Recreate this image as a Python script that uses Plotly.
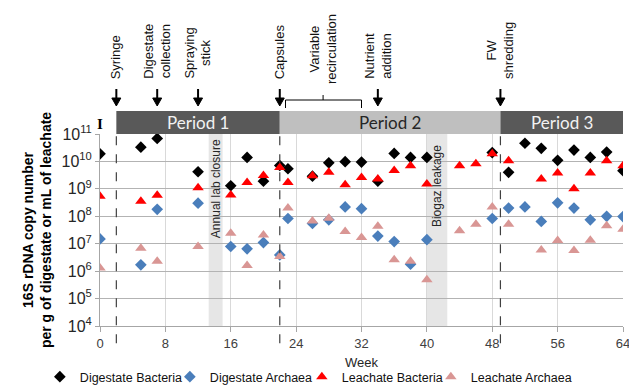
import plotly.graph_objects as go

# ---- data ----
weeks_digestate = [0, 5, 7, 12, 16, 18, 20, 22, 23, 26, 28, 30, 32, 34, 36, 38, 40,
                   48, 50, 52, 54, 56, 58, 60, 62, 64]
digestate_bacteria = [1.9e10, 3.3e10, 6.9e10, 4.2e9, 1.3e9, 1.4e10, 1.9e9, 7.1e9, 5.4e9,
                      2.9e9, 8.9e9, 9.8e9, 9.5e9, 1.9e9, 1.95e10, 1.4e10, 1.4e10,
                      2.1e10, 4.0e9, 4.6e10, 3.0e10, 1.1e10, 2.6e10, 1.4e10, 2.2e10, 4.6e9]
digestate_archaea = [1.5e7, 1.7e6, 1.8e8, 3.0e8, 7.9e6, 6.5e6, 1.1e7, 3.9e6, 8.3e7,
                     5.5e7, 7.4e7, 2.2e8, 1.9e8, 1.9e7, 1.2e7, 1.8e6, 1.4e7,
                     8.3e7, 2.0e8, 2.2e8, 6.5e7, 3.1e8, 2.0e8, 7.4e7, 1.0e8, 9.8e7]

weeks_leachate = [0, 5, 7, 12, 16, 18, 20, 22, 23, 26, 28, 30, 32, 34, 36, 38, 40,
                  44, 46, 48, 50, 54, 56, 58, 60, 62, 64]
leachate_bacteria = [5.4e8, 3.5e8, 5.9e8, 1.1e9, 6.0e8, 1.7e9, 3.1e9, 6.0e9, 1.7e9,
                     3.0e9, 4.0e9, 1.4e9, 2.6e9, 2.3e9, 4.7e9, 6.9e9, 1.5e9,
                     6.9e9, 8.3e9, 1.9e10, 1.05e10, 2.3e9, 3.8e9, 1.0e9, 3.8e9, 1.05e10, 6.9e9]
leachate_archaea = [1.3e6, 6.9e6, 2.3e6, 7.9e6, 2.4e7, 1.6e6, 2.1e7, 3.4e6, 2.0e8,
                    6.8e7, 8.5e7, 2.8e7, 1.7e7, 4.3e7, 2.6e6, 2.3e6, 4.9e5,
                    3.0e7, 5.1e7, 2.2e8, 5.1e7, 5.9e6, 1.3e7, 5.6e6, 1.35e7, 4.5e7, 3.4e7]

y_exponents = [4, 5, 6, 7, 8, 9, 10, 11]
x_ticks = [0, 8, 16, 24, 32, 40, 48, 56, 64]

periods = [("Period 1", 2, 22), ("Period 2", 22, 49), ("Period 3", 49, 64)]
events = [("Syringe", 2), ("Digestate<br>collection", 7), ("Spraying<br>stick", 12),
          ("Capsules", 22), ("Nutrient<br>addition", 34), ("FW<br>shredding", 49)]
recirculation_span = (22.7, 32)
recirculation_mid = 27.3
closures = [("Annual lab closure", 13.3, 15.0), ("Biogaz leakage", 40.0, 42.5)]
dashed_weeks = [2, 22, 49]

FONT = "Liberation Sans, Arial, sans-serif"
PLOT_BOTTOM, PLOT_H = 326, 192   # pixel helpers for paper-referenced decorations
PX_PER_WEEK = 523 / 64


def py(pixel_y):
    return (PLOT_BOTTOM - pixel_y) / PLOT_H


fig = go.Figure()
fig.add_trace(go.Scatter(x=weeks_digestate, y=digestate_bacteria, mode="markers",
                         name="Digestate Bacteria", legendwidth=85,
                         marker=dict(symbol="diamond", size=9, color="#000000")))
fig.add_trace(go.Scatter(x=weeks_digestate, y=digestate_archaea, mode="markers",
                         name="Digestate Archaea", legendwidth=87,
                         marker=dict(symbol="diamond", size=9, color="#4a7ebb")))
fig.add_trace(go.Scatter(x=weeks_leachate, y=leachate_bacteria, mode="markers",
                         name="Leachate Bacteria", legendwidth=84,
                         marker=dict(symbol="triangle-up", size=10, color="#ff0000")))
fig.add_trace(go.Scatter(x=weeks_leachate, y=leachate_archaea, mode="markers",
                         name="Leachate Archaea", legendwidth=115,
                         marker=dict(symbol="triangle-up", size=10, color="#d99694")))

shapes = []
annotations = []

# closure shading
for label, x0, x1 in closures:
    shapes.append(dict(type="rect", xref="x", yref="paper", x0=x0, x1=x1, y0=0, y1=1,
                       fillcolor="#e6e6e6", line=dict(width=0), layer="below"))
    top_y = py(137) if label.startswith("Annual") else py(143)
    annotations.append(dict(x=(x0 + x1) / 2, y=top_y, xref="x", yref="paper",
                            xanchor="center", yanchor="top",
                            text=label, textangle=-90, showarrow=False,
                            font=dict(size=12, color="#262626", family=FONT)))

# period bars
ptop = py(111)
for i, (label, x0, x1) in enumerate(periods):
    dark = i != 1
    shapes.append(dict(type="rect", xref="x", yref="paper", x0=x0, x1=x1, y0=1.0, y1=ptop,
                       fillcolor="#595959" if dark else "#bfbfbf", line=dict(width=0),
                       layer="below"))
    annotations.append(dict(x=(x0 + x1) / 2, y=(1.0 + ptop) / 2, xref="x", yref="paper",
                            xanchor="center", yanchor="middle",
                            text=label, showarrow=False,
                            font=dict(size=17, color="#f2f2f2" if dark else "#262626",
                                      family="Lato, Open Sans, sans-serif")))

# dashed lines
for w in dashed_weeks:
    shapes.append(dict(type="line", xref="x", yref="paper", x0=w, x1=w, y0=-0.09, y1=1.0,
                       line=dict(color="#404040", width=1.2, dash="dash")))

# event arrows (shapes) and labels
hw = 4.5 / PX_PER_WEEK
for label, w in events:
    shapes.append(dict(type="line", xref="x", yref="paper", x0=w, x1=w, y0=py(89), y1=py(99),
                       line=dict(color="#000000", width=2)))
    shapes.append(dict(type="path", xref="x", yref="paper",
                       path=f"M {w - hw},{py(98)} L {w + hw},{py(98)} L {w},{py(106)} Z",
                       fillcolor="#000000", line=dict(color="#000000", width=1)))
    annotations.append(dict(x=w, y=py(81), xref="x", yref="paper", text=label,
                            textangle=-90, showarrow=False, xanchor="center", yanchor="bottom",
                            font=dict(size=13, color="#111111", family=FONT)))

# variable recirculation bracket
b0, b1 = recirculation_span
shapes.append(dict(type="path", xref="x", yref="paper",
                   path=f"M {b0},{py(108)} L {b0},{py(100)} L {b1},{py(100)} L {b1},{py(108)}",
                   line=dict(color="#000000", width=1)))
shapes.append(dict(type="line", xref="x", yref="paper", x0=recirculation_mid, x1=recirculation_mid,
                   y0=py(100), y1=py(95), line=dict(color="#000000", width=1)))
annotations.append(dict(x=recirculation_mid, y=py(86), xref="x", yref="paper",
                        text="Variable<br>recirculation", textangle=-90, showarrow=False,
                        xanchor="center", yanchor="bottom",
                        font=dict(size=13, color="#111111", family=FONT)))

# "I" marker
annotations.append(dict(x=0.0, y=py(124), xref="paper", yref="paper", text="<b>I</b>",
                        xanchor="center", yanchor="middle",
                        showarrow=False, font=dict(size=15, color="#000000",
                                                   family="Liberation Serif, serif")))

# x axis title as annotation
annotations.append(dict(x=0.5, y=py(362), xref="paper", yref="paper", text="Week",
                        xanchor="center", yanchor="middle", showarrow=False,
                        font=dict(size=13, color="#262626", family=FONT)))

fig.update_layout(
    width=629, height=388, autosize=False,
    margin=dict(l=100, r=6, t=134, b=62, autoexpand=False),
    paper_bgcolor="white", plot_bgcolor="white",
    font=dict(family=FONT, color="#262626"),
    shapes=shapes, annotations=annotations,
    legend=dict(orientation="h", x=-0.115, xanchor="left",
                y=py(377), yanchor="middle", font=dict(size=12.5, color="#111111"),
                itemwidth=30, tracegroupgap=0, bgcolor="rgba(0,0,0,0)"),
    xaxis=dict(range=[0, 64], tickmode="array", tickvals=x_ticks,
               ticktext=[str(v) for v in x_ticks],
               showgrid=True, gridcolor="#d9d9d9", gridwidth=1,
               showline=True, linecolor="#a6a6a6", linewidth=1,
               ticks="outside", ticklen=5, tickcolor="#a6a6a6",
               zeroline=False, ticklabeloverflow="allow",
               tickfont=dict(size=13, color="#404040", family="Liberation Sans")),
    yaxis=dict(type="log", range=[4, 11],
               tickvals=[10 ** e for e in y_exponents],
               ticktext=[f"10<sup>{e}</sup>" for e in y_exponents],
               showgrid=True, gridcolor="#b3b3b3", gridwidth=1,
               showline=True, linecolor="#a6a6a6", linewidth=1,
               ticks="outside", ticklen=4, tickcolor="#a6a6a6",
               zeroline=False, tickfont=dict(size=16, color="#262626"),
               title=dict(text="<b>16S rDNA copy number<br>per g of digestate or mL of leachate</b>",
                          font=dict(size=14, color="#000000"), standoff=6)),
)

fig.write_html("out.html")
